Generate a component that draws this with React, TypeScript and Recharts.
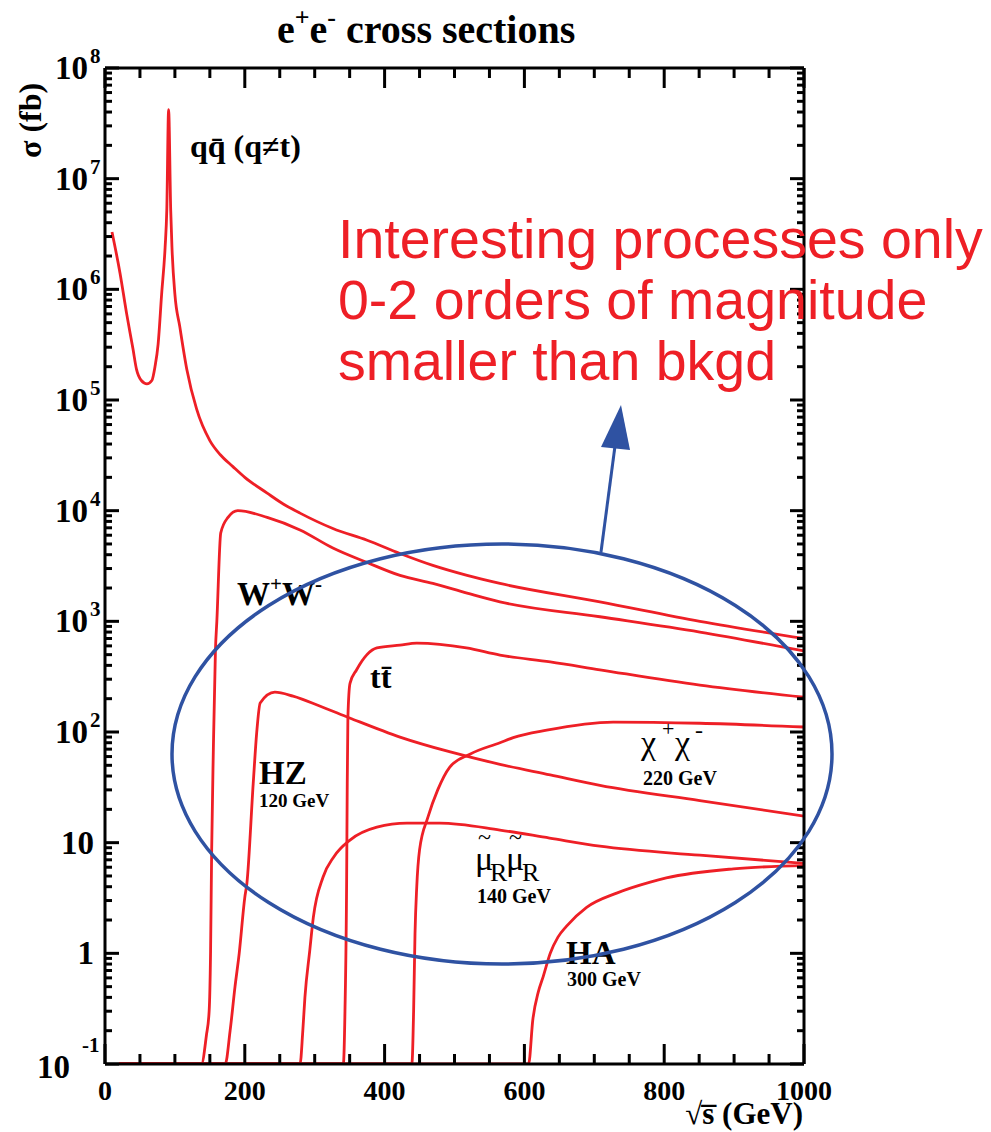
import React from 'react';
import { LineChart, Line, XAxis, YAxis } from 'recharts';

// sqrt(s) in GeV, sigma in fb. 0.1 = below the plotted range
const qqbar: [number, number][] = [
  [10, 3.3e6], [21.5, 1.4e6], [31, 6e5], [40, 2.9e5], [45, 1.9e5], [52, 1.5e5], [60, 1.4e5],
  [67, 1.5e5], [71.5, 2e5], [76, 3.2e5], [81, 9e5], [86, 2.4e6], [88.4, 5.2e6], [91, 4.2e7],
  [94, 5.2e6], [95.8, 2.4e6], [100, 9e5], [107, 4.6e5], [117, 1.9e5], [131, 8.3e4],
  [150, 4.3e4], [165, 3.2e4], [183, 2.5e4], [200, 2.0e4], [232, 1.44e4], [255, 1.15e4],
  [279, 9.5e3], [326, 6.9e3], [375, 5.4e3], [422, 4.1e3], [469, 3.2e3], [518, 2.6e3],
  [565, 2.2e3], [708, 1.5e3], [851, 1.0e3], [1000, 700],
];
const wPlusWMinus: [number, number][] = [
  [20, 0.1], [138, 0.1], [145, 0.18], [149, 0.3], [151, 1], [152.6, 8.6], [155, 69],
  [158, 550], [160, 1000], [165.6, 6300], [176, 8700], [190, 1.0e4], [232, 8.7e3],
  [279, 6.7e3], [326, 4.6e3], [375, 3.4e3], [422, 2.6e3], [469, 2.2e3], [518, 1.8e3],
  [565, 1.5e3], [708, 1.1e3], [851, 800], [1000, 540],
];
const higgsZ: [number, number][] = [
  [20, 0.1], [172, 0.1], [179, 0.2], [186, 0.5], [192, 1], [200, 3.2], [203, 4.3],
  [212, 34], [217, 98], [222, 183], [243, 229], [269, 211], [308, 171], [350, 134],
  [422, 90], [494, 66], [565, 51], [637, 41], [708, 33], [851, 24], [1000, 17.4],
];
const topPair: [number, number][] = [
  [20, 0.1], [341, 0.1], [343.3, 0.3], [345.7, 4.6], [346.5, 30], [347.5, 136],
  [350.5, 275], [360, 365], [389, 575], [422, 610], [446, 635], [517, 575], [565, 495],
  [637, 430], [708, 365], [851, 265], [1000, 206],
];
const chargino: [number, number][] = [
  [20, 0.1], [439, 0.1], [441.5, 0.3], [443.5, 1.5], [446, 4], [450, 8.6], [462, 17],
  [476, 30], [493, 48], [522, 63], [565, 80], [584, 89], [632, 104], [727, 123],
  [851, 120], [1000, 111],
];
const smuon: [number, number][] = [
  [20, 0.1], [279, 0.1], [283, 0.2], [286, 0.4], [293, 1.07], [298, 2.1], [312, 4.9],
  [327, 7.4], [350, 10.5], [389, 13.8], [432, 15], [479, 15], [565, 13], [636, 11],
  [708, 9.3], [851, 7.7], [1000, 6.5],
];
const higgsA: [number, number][] = [
  [20, 0.1], [606, 0.1], [612, 0.25], [620, 0.45], [627, 0.62], [637, 1.0], [648, 1.4],
  [660, 1.75], [689, 2.6], [732, 3.5], [780, 4.4], [803, 4.8], [899, 5.8], [1000, 6.2],
];

const xMajorTicks = [0, 200, 400, 600, 800, 1000];
const xMinorSteps = [50, 100, 150];
const yMajorTicks = [0.1, 1, 10, 100, 1e3, 1e4, 1e5, 1e6, 1e7, 1e8];
const yMinorFactors = [2, 3, 4, 5, 6, 7, 8, 9];
const yTickLabels: [string, string][] = [
  ['10', '-1'], ['1', ''], ['10', ''], ['10', '2'], ['10', '3'],
  ['10', '4'], ['10', '5'], ['10', '6'], ['10', '7'], ['10', '8'],
];

const RED = '#ee1f26';
const BLUE = '#2f52a2';
const SERIF = "'Liberation Serif', 'Times New Roman', serif";
const SANS = "'Liberation Sans', Arial, sans-serif";

const W = 991;
const H = 1132;
// plot area ends up at x 105..804, y 68..1064 (axes are 1px wide)
const MARGIN = { top: 67, right: 186, bottom: 67, left: 104 };
const X_DOMAIN: [number, number] = [0, 1000];
const Y_DOMAIN: [number, number] = [0.1, 1e8];

const toPts = (arr: [number, number][]) => arr.map(([s, v]) => ({ s, v }));
const series = [qqbar, wPlusWMinus, higgsZ, topPair, chargino, smuon, higgsA].map(toPts);

const xTicks = [
  ...xMajorTicks,
  ...xMajorTicks.slice(0, -1).flatMap((t) => xMinorSteps.map((d) => t + d)),
].sort((a, b) => a - b);
const yTicks = [
  ...yMajorTicks,
  ...yMajorTicks.slice(0, -1).flatMap((t) => yMinorFactors.map((k) => k * t)),
].sort((a, b) => a - b);

const AXIS_LINE = { stroke: '#000', strokeWidth: 3 };
const TICK_W = 3;

const yMajorIndex = (v: number) =>
  yMajorTicks.findIndex((t) => Math.abs(Math.log10(t) - Math.log10(v)) < 1e-6);

const yLabel = (x: number, y: number, idx: number) => {
  const [base, exp] = yTickLabels[idx];
  if (exp === '-1') {
    return (
      <g fontFamily={SERIF} fontWeight="bold" fill="#000">
        <text x={x - 35} y={y + 14} textAnchor="end" fontSize={33}>{base}</text>
        <text x={x - 23} y={y - 12} fontSize={21}>{exp}</text>
      </g>
    );
  }
  if (exp === '') {
    return (
      <text x={x - 11} y={y + 11} textAnchor="end" fontSize={33} fontFamily={SERIF} fontWeight="bold">{base}</text>
    );
  }
  return (
    <g fontFamily={SERIF} fontWeight="bold" fill="#000">
      <text x={x - 17} y={y + 11} textAnchor="end" fontSize={33}>{base}</text>
      <text x={x - 15} y={y - 5} fontSize={21}>{exp}</text>
    </g>
  );
};

// inward tick marks; majors are longer and carry the labels
const LeftTick = (props: any) => {
  const { x, y, payload } = props;
  const idx = yMajorIndex(payload.value);
  return (
    <g>
      <path d={`M${x},${y}h${idx >= 0 ? 14 : 7}`} stroke="#000" strokeWidth={TICK_W} fill="none" />
      {idx >= 0 && yLabel(x, y, idx)}
    </g>
  );
};

const RightTick = (props: any) => {
  const { x, y, payload } = props;
  const major = yMajorIndex(payload.value) >= 0;
  return <path d={`M${x},${y}h${major ? -14 : -7}`} stroke="#000" strokeWidth={TICK_W} fill="none" />;
};

const BottomTick = (props: any) => {
  const { x, y, payload } = props;
  const major = xMajorTicks.includes(payload.value);
  return (
    <g>
      <path d={`M${x},${y}v${major ? -20 : -10}`} stroke="#000" strokeWidth={TICK_W} fill="none" />
      {major && (
        <text x={x} y={y + 36} textAnchor="middle" fontSize={28} fontFamily={SERIF} fontWeight="bold">
          {payload.value}
        </text>
      )}
    </g>
  );
};

const TopTick = (props: any) => {
  const { x, y, payload } = props;
  const major = xMajorTicks.includes(payload.value);
  return <path d={`M${x},${y}v${major ? 20 : 10}`} stroke="#000" strokeWidth={TICK_W} fill="none" />;
};

const Annotations = () => (
  <svg width={W} height={H} style={{ position: 'absolute', left: 0, top: 0, pointerEvents: 'none' }}>
    <g fontFamily={SERIF} fontWeight="bold" fill="#000">
      <text x={277} y={43} fontSize={40}>
        e<tspan dy={-17} fontSize={26}>+</tspan>
        <tspan dy={17}>e</tspan>
        <tspan dy={-17} fontSize={26}>-</tspan>
        <tspan dy={17}> cross sections</tspan>
      </text>
      <text transform="translate(41,158) rotate(-90)" fontSize={32}>σ (fb)</text>
      <text x={803} y={1124} textAnchor="end" fontSize={31}>√s̅ (GeV)</text>

      <text x={190} y={157} fontSize={32}>qq̄ (q≠t)</text>
      <text x={237} y={605} fontSize={33}>
        W<tspan dy={-14} fontSize={21}>+</tspan>
        <tspan dy={14}>W</tspan>
        <tspan dy={-14} fontSize={21}>-</tspan>
      </text>
      <text x={370} y={688} fontSize={32}>tt̄</text>
      <text x={259} y={784} fontSize={33}>HZ</text>
      <text x={259} y={807} fontSize={19}>120 GeV</text>
      <text x={643} y={785} fontSize={20}>220 GeV</text>
      <text x={477} y={903} fontSize={20}>140 GeV</text>
      <text x={566} y={964} fontSize={33}>HA</text>
      <text x={567} y={986} fontSize={20}>300 GeV</text>
    </g>
    <g fontFamily={SERIF} fill="#000">
      <text x={641} y={754} fontSize={34}>χ</text>
      <text x={662} y={736} fontSize={22}>+</text>
      <text x={675} y={754} fontSize={34}>χ</text>
      <text x={695} y={738} fontSize={24}>-</text>
      <text x={475} y={870} fontSize={34}>μ</text>
      <text x={478} y={845} fontSize={24}>~</text>
      <text x={490} y={881} fontSize={26}>R</text>
      <text x={506} y={870} fontSize={34}>μ</text>
      <text x={509} y={845} fontSize={24}>~</text>
      <text x={522} y={881} fontSize={26}>R</text>
    </g>

    <ellipse cx={502} cy={754} rx={330} ry={210} fill="none" stroke={BLUE} strokeWidth={3.5} />
    <line x1={601} y1={552} x2={615} y2={446} stroke={BLUE} strokeWidth={3} />
    <polygon points="621,405 630,450 601,447" fill={BLUE} />

    <g fontFamily={SANS} fontSize={55.5} fill={RED}>
      <text x={338} y={258}>Interesting processes only</text>
      <text x={338} y={319}>0-2 orders of magnitude</text>
      <text x={338} y={380}>smaller than bkgd</text>
    </g>
  </svg>
);

export default function App() {
  return (
    <div style={{ position: 'absolute', left: 0, top: 0, width: W, height: H, background: '#fff' }}>
      <LineChart width={W} height={H} margin={MARGIN}>
        <XAxis xAxisId={0} type="number" dataKey="s" domain={X_DOMAIN} ticks={xTicks} interval={0}
          height={1} tickSize={0} tickMargin={0} tickLine={false} axisLine={AXIS_LINE}
          tick={<BottomTick />} allowDataOverflow />
        <XAxis xAxisId="top" orientation="top" type="number" dataKey="s" domain={X_DOMAIN} ticks={xTicks}
          interval={0} height={1} tickSize={0} tickMargin={0} tickLine={false} axisLine={AXIS_LINE}
          tick={<TopTick />} allowDataOverflow />
        <YAxis yAxisId={0} type="number" scale="log" domain={Y_DOMAIN} ticks={yTicks} interval={0}
          width={1} tickSize={0} tickMargin={0} tickLine={false} axisLine={AXIS_LINE}
          tick={<LeftTick />} allowDataOverflow />
        <YAxis yAxisId="right" orientation="right" type="number" scale="log" domain={Y_DOMAIN}
          ticks={yTicks} interval={0} width={1} tickSize={0} tickMargin={0} tickLine={false}
          axisLine={AXIS_LINE} tick={<RightTick />} allowDataOverflow />
        {series.map((d, i) => (
          <Line
            key={i}
            data={d}
            dataKey="v"
            type="monotone"
            stroke={RED}
            strokeWidth={2.8}
            dot={false}
            isAnimationActive={false}
          />
        ))}
      </LineChart>
      <Annotations />
    </div>
  );
}
